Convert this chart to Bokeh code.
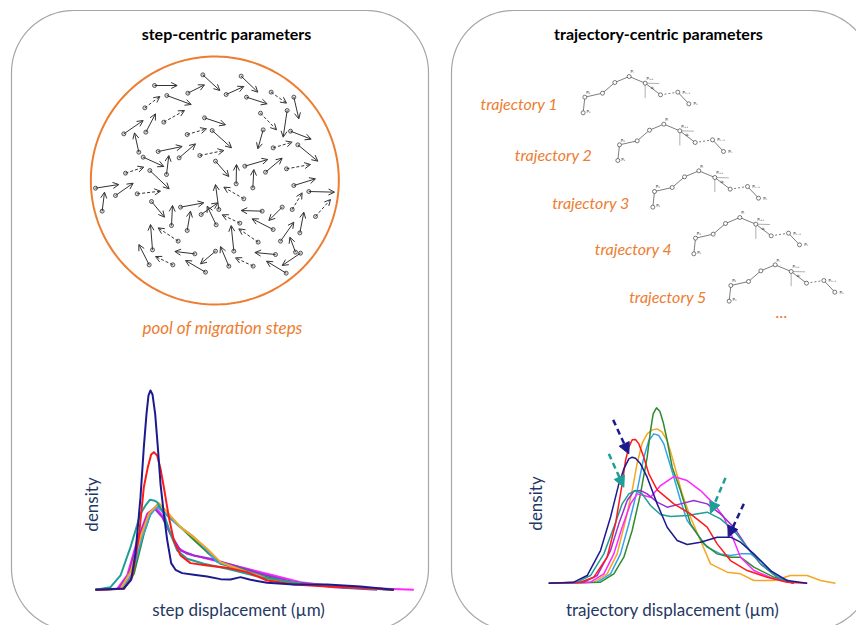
import numpy as np
from bokeh.plotting import figure
from bokeh.models import Range1d, ColumnDataSource, Arrow, OpenHead, NormalHead
from bokeh.core.properties import value
from bokeh.embed import file_html
from bokeh.resources import INLINE

# ---------------- data ----------------
TITLES = ["step-centric parameters", "trajectory-centric parameters"]
POOL_LABEL = "pool of migration steps"
TRAJ_LABELS = ["trajectory 1", "trajectory 2", "trajectory 3", "trajectory 4", "trajectory 5"]
X_LABELS = ["step displacement (\u00b5m)", "trajectory displacement (\u00b5m)"]
Y_LABEL = "density"

# pool of migration steps (start -> end, dashed flag), pool units
pool_x0 = [222, 322, 367, 482, 437, 572, 640, 498, 259, 193, 196, 250, 130, 175, 372, 540, 620, 548, 630, 320,
           395, 578, 652, 233, 296, 358, 188, 258, 405, 467, 493, 555, 517, 618, 135, 208, 45, 105, 65, 170,
           640, 685, 490, 415, 213, 273, 300, 320, 362, 407, 545, 578, 478, 605, 635, 705, 658, 600, 460, 533,
           293, 216, 343, 585, 645, 660, 206, 277, 375, 405, 445, 518, 617]
pool_y0 = [135, 158, 103, 107, 162, 155, 170, 170, 165, 202, 275, 245, 280, 335, 232, 218, 210, 268, 272, 282,
           270, 322, 313, 333, 352, 345, 350, 402, 362, 430, 377, 395, 442, 385, 398, 390, 443, 465, 512, 460,
           435, 453, 475, 507, 483, 555, 500, 570, 522, 553, 512, 567, 548, 500, 507, 528, 577, 602, 632, 605,
           602, 628, 640, 642, 635, 638, 673, 673, 695, 632, 677, 677, 698]
pool_x1 = [290, 372, 418, 532, 490, 618, 655, 560, 332, 238, 225, 312, 188, 162, 435, 588, 608, 532, 692, 378,
           453, 635, 712, 305, 345, 430, 250, 265, 445, 468, 562, 605, 520, 690, 190, 266, 115, 158, 72, 240,
           705, 762, 430, 405, 252, 276, 370, 330, 412, 380, 482, 515, 425, 565, 665, 750, 670, 640, 452, 475,
           233, 210, 283, 523, 628, 605, 175, 225, 315, 360, 420, 465, 558]
pool_y1 = [135, 133, 150, 155, 138, 188, 235, 190, 192, 168, 220, 210, 240, 277, 253, 268, 290, 325, 296, 265,
           322, 305, 362, 318, 310, 330, 378, 345, 408, 372, 357, 353, 387, 372, 380, 445, 432, 428, 455, 452,
           415, 455, 440, 432, 530, 495, 487, 512, 487, 497, 510, 535, 523, 540, 457, 477, 515, 545, 555, 565,
           562, 552, 633, 636, 590, 675, 612, 648, 660, 670, 618, 652, 662]
pool_dashed = [0, 0, 0, 0, 0, 1, 0, 0, 0, 1, 0, 1, 0, 0, 0, 1, 0, 0, 0, 1,
               0, 1, 0, 0, 0, 1, 0, 0, 0, 0, 0, 0, 0, 1, 1, 0, 0, 0, 0, 1,
               0, 0, 1, 0, 0, 0, 0, 0, 0, 0, 0, 0, 1, 0, 1, 1, 0, 0, 0, 1,
               1, 0, 0, 0, 0, 0, 0, 1, 0, 0, 0, 1, 0]

# trajectory sketch (trajectory units)
traj_x = [338, 343, 396, 433, 476, 524, 570, 622, 655]
traj_y = [157, 110, 98, 66, 48, 68, 103, 95, 130]
traj_pt_labels = ["P\u2081", "P\u2082", "P\u1d62", "P\u1d62\u208a\u2081", "P\u2099\u208b\u2081", "P\u2099"]
traj_pt_label_idx = [0, 1, 4, 5, 7, 8]
traj_dx = [0, 104, 209, 332, 438]
traj_dy = [0, 143, 283, 423, 565]
traj_label_x = [30, 133, 245, 373, 476]
traj_label_y = [130, 282, 425, 565, 708]

# step-centric densities (displacement units, density units)
step_curves = {
    "magenta": ([105, 170, 200, 230, 260, 285, 305, 325, 350, 380, 420, 480, 560, 640, 720, 850, 1060],
                [0, 3, 43, 148, 228, 248, 223, 178, 128, 108, 98, 83, 63, 43, 23, 8, 0]),
    "purple": ([105, 175, 205, 235, 262, 283, 305, 330, 360, 400, 450, 520, 600, 700, 820, 950],
               [0, 3, 48, 158, 228, 243, 218, 168, 118, 103, 93, 73, 48, 23, 8, 0]),
    "green": ([105, 190, 220, 250, 270, 290, 315, 360, 400, 440, 480, 540, 600, 660, 740, 850, 1000],
              [0, 3, 48, 168, 228, 253, 228, 188, 150, 113, 78, 63, 43, 28, 16, 8, 0]),
    "lightblue": ([105, 185, 215, 245, 268, 290, 320, 360, 400, 440, 470, 520, 580, 640, 720, 850, 1000],
                  [0, 3, 48, 158, 223, 250, 223, 188, 158, 118, 83, 68, 48, 28, 18, 10, 0]),
    "orange": ([105, 180, 210, 240, 265, 295, 320, 360, 400, 440, 480, 520, 560, 620, 720, 850, 1000],
               [0, 3, 53, 158, 228, 260, 233, 188, 158, 123, 83, 68, 53, 33, 18, 10, 0]),
    "teal": ([105, 150, 180, 210, 240, 255, 268, 280, 290, 310, 330, 350, 380, 430, 500, 600, 720, 850, 1000],
             [0, 8, 43, 128, 228, 253, 270, 268, 263, 228, 168, 118, 93, 78, 63, 38, 18, 8, 0]),
    "red": ([105, 190, 215, 235, 250, 262, 272, 280, 290, 300, 310, 325, 340, 360, 390, 440, 500, 560, 620, 700,
             800, 900, 1000],
            [0, 3, 38, 158, 308, 368, 406, 413, 403, 363, 308, 218, 148, 103, 80, 73, 66, 53, 28, 16, 10, 6, 0]),
    "navy": ([105, 190, 212, 225, 240, 250, 258, 264, 270, 276, 284, 292, 300, 310, 320, 332, 345, 365, 400, 440,
              480, 510, 540, 570, 620, 700, 800, 900, 1000],
             [0, 4, 30, 110, 278, 428, 528, 583, 598, 586, 528, 428, 318, 228, 150, 80, 60, 50, 45, 40, 32, 31, 38,
              30, 21, 16, 16, 10, 0]),
}

# trajectory-centric densities
traj_curves = {
    "orange": ([145, 280, 320, 350, 375, 395, 410, 425, 440, 455, 470, 485, 500, 515, 530, 545, 570, 600, 630, 680,
                720, 760, 820, 870, 920, 960, 1005],
               [0, 3, 28, 88, 188, 278, 360, 420, 448, 460, 463, 453, 428, 378, 323, 268, 198, 128, 58, 33, 28, 8,
                8, 23, 23, 8, 0]),
    "lightblue": ([145, 290, 330, 360, 385, 410, 430, 445, 460, 475, 490, 505, 520, 540, 560, 590, 620, 660, 690,
                   720, 750, 780, 820, 880],
                  [0, 3, 28, 88, 178, 278, 378, 428, 448, 443, 418, 368, 318, 248, 188, 148, 108, 88, 83, 88, 88, 68,
                   28, 0]),
    "green": ([145, 300, 340, 370, 395, 420, 440, 450, 458, 468, 478, 488, 500, 515, 540, 570, 610, 650, 690, 720,
               760, 820, 880],
              [0, 3, 28, 78, 158, 268, 378, 458, 508, 526, 516, 483, 428, 348, 278, 178, 118, 88, 78, 78, 48, 18, 0]),
    "magenta": ([145, 270, 310, 340, 365, 390, 410, 430, 450, 480, 520, 560, 600, 640, 670, 700, 720, 760, 820, 880],
                [0, 3, 28, 88, 168, 238, 268, 263, 258, 293, 320, 308, 278, 238, 198, 128, 78, 38, 13, 0]),
    "purple": ([145, 250, 290, 330, 355, 380, 400, 420, 440, 470, 500, 540, 580, 620, 660, 700, 740, 780, 830, 880],
               [0, 3, 23, 98, 178, 248, 276, 278, 268, 243, 228, 238, 248, 238, 208, 168, 108, 58, 18, 0]),
    "teal": ([145, 230, 270, 310, 340, 365, 385, 405, 425, 450, 480, 510, 560, 620, 660, 700, 740, 780, 830, 880],
             [0, 3, 23, 88, 168, 238, 268, 278, 268, 233, 206, 200, 203, 213, 193, 158, 108, 58, 18, 0]),
    "red": ([145, 240, 280, 320, 345, 365, 375, 385, 395, 405, 415, 430, 445, 470, 520, 570, 620, 650, 690, 740,
             800, 860, 920],
            [0, 3, 18, 78, 178, 298, 368, 408, 430, 431, 418, 378, 328, 280, 238, 208, 168, 118, 68, 38, 18, 3, 0]),
    "navy": ([145, 220, 260, 300, 330, 355, 370, 385, 395, 405, 420, 440, 470, 500, 530, 560, 600, 650, 690, 720,
              760, 810, 860, 920],
             [0, 3, 23, 98, 198, 298, 343, 373, 378, 375, 358, 318, 238, 168, 128, 116, 123, 138, 138, 123, 88, 38,
              8, 0]),
}

# dashed highlight arrows on trajectory densities
hl_x0 = [338, 325, 675, 730]
hl_y0 = [490, 388, 316, 238]
hl_x1 = [385, 370, 630, 683]
hl_y1 = [388, 288, 210, 138]
hl_color = ["navy", "teal", "teal", "navy"]

COLORS = {"navy": "#1b1b8f", "red": "#ff1a1a", "teal": "#1f9e98", "orange": "#f5a623",
          "lightblue": "#35a2ea", "green": "#2e8b2e", "magenta": "#ff26ff", "purple": "#9a2fd2"}
ORANGE = "#ed7d31"
NAVY_TEXT = "#1f3864"

# ---------------- layout ----------------
W, H = 856, 625
PX0, PY0 = 0, 0

p = figure(width=W, height=H, output_backend="svg", toolbar_location=None,
           x_range=Range1d(PX0, PX0 + W), y_range=Range1d(PY0 + H, PY0),
           x_axis_location=None, y_axis_location=None, min_border=0)
p.grid.visible = False
p.outline_line_color = None
p.background_fill_color = "white"
p.border_fill_color = "white"


def lin_range(org_px, units_per_px, lo_px, hi_px):
    return Range1d((lo_px - org_px) * units_per_px, (hi_px - org_px) * units_per_px)


p.extra_x_ranges["pool"] = lin_range(80, 3, PX0, PX0 + W)
p.extra_y_ranges["pool"] = lin_range(40, 3, PY0 + H, PY0)
p.extra_x_ranges["traj"] = lin_range(470, 3, PX0, PX0 + W)
p.extra_y_ranges["traj"] = lin_range(60, 3, PY0 + H, PY0)
p.extra_x_ranges["sd"] = lin_range(60, 3, PX0, PX0 + W)
p.extra_y_ranges["sd"] = lin_range(589.3, -3, PY0 + H, PY0)
p.extra_x_ranges["td"] = lin_range(500, 3, PX0, PX0 + W)
p.extra_y_ranges["td"] = lin_range(582.7, -3, PY0 + H, PY0)


def rounded_rect(l, r, t, b, rad, n=30):
    xs, ys = [], []
    for cx, cy, a0 in [(l + rad, t + rad, np.pi), (r - rad, t + rad, 1.5 * np.pi),
                       (r - rad, b - rad, 0.0), (l + rad, b - rad, 0.5 * np.pi)]:
        a = np.linspace(a0, a0 + 0.5 * np.pi, n)
        xs.extend(cx + rad * np.cos(a))
        ys.extend(cy + rad * np.sin(a))
    xs.append(xs[0]); ys.append(ys[0])
    return xs, ys


for l, r in [(11, 428), (451, 872)]:
    xs, ys = rounded_rect(l, r, 10, 630, 62)
    p.line(xs, ys, line_color="#a6a6a6", line_width=1.2)

# titles
p.text(x=[226, 658], y=[33, 33], text=TITLES, text_font=value("Lato"), text_font_style="bold",
       text_font_size="16px", text_color="black", text_align="center", text_baseline="middle")

# pool circle
ang = np.linspace(0, 2 * np.pi, 240)
p.line(403 + 372 * np.cos(ang), 420 + 372 * np.sin(ang), line_color=ORANGE, line_width=2,
       x_range_name="pool", y_range_name="pool")

for dflag, dash in [(0, "solid"), (1, "3 2")]:
    idx = [i for i, d in enumerate(pool_dashed) if d == dflag]
    src = ColumnDataSource(dict(x0=[pool_x0[i] for i in idx], y0=[pool_y0[i] for i in idx],
                                x1=[pool_x1[i] for i in idx], y1=[pool_y1[i] for i in idx]))
    p.add_layout(Arrow(end=OpenHead(size=6, line_color="#333333", line_width=1),
                       x_start="x0", y_start="y0", x_end="x1", y_end="y1", source=src,
                       line_color="#333333", line_width=1, line_dash=dash,
                       x_range_name="pool", y_range_name="pool"))
p.scatter(pool_x0, pool_y0, size=4, marker="circle", line_color="#333333", fill_color="#dcdcdc",
          line_width=0.8, x_range_name="pool", y_range_name="pool")

p.text(x=[222], y=[327], text=[POOL_LABEL], text_font=value("Lato"), text_font_style="italic",
       text_font_size="17px", text_color=ORANGE, text_align="center", text_baseline="middle")

# trajectories
for k in range(5):
    dx, dy = traj_dx[k], traj_dy[k]
    xs = [v + dx for v in traj_x]
    ys = [v + dy for v in traj_y]
    kw = dict(line_color="#6e6e6e", line_width=0.9, x_range_name="traj", y_range_name="traj")
    p.line(xs[:7], ys[:7], **kw)
    p.line(xs[6:8], ys[6:8], line_dash="2 2", **kw)
    p.line(xs[7:], ys[7:], **kw)
    p.segment(x0=[xs[5], xs[5]], y0=[ys[5] - 6, ys[5]], x1=[xs[5], xs[5] + 42], y1=[ys[5] + 44, ys[5] + 1],
              line_color="#9a9a9a", line_width=0.8, x_range_name="traj", y_range_name="traj")
    p.scatter(xs, ys, size=4, marker="circle", line_color="#444444", fill_color="white",
              line_width=0.7, x_range_name="traj", y_range_name="traj")
    lx = [xs[i] + (14 if i in (7, 8) else 4) for i in traj_pt_label_idx]
    ly = [ys[i] + (-14 if i in (1, 4, 5) else (-4 if i == 0 else 0)) for i in traj_pt_label_idx]
    lx[0] = xs[0] + 10
    p.text(x=lx, y=ly, text=traj_pt_labels, text_font=value("DejaVu Sans"), text_font_size="4px",
           text_color="#333333", text_align="left", text_baseline="middle",
           x_range_name="traj", y_range_name="traj")
    p.text(x=[xs[5] + 22], y=[ys[5] + 12], text=["\u03b1\u1d62"], text_font=value("DejaVu Sans"),
           text_font_size="4px", text_color="#333333", text_align="center", text_baseline="middle",
           x_range_name="traj", y_range_name="traj")

p.text(x=traj_label_x, y=traj_label_y, text=TRAJ_LABELS, text_font=value("Lato"), text_font_style="italic",
       text_font_size="16px", text_color=ORANGE, text_align="left", text_baseline="middle",
       x_range_name="traj", y_range_name="traj")
p.text(x=[932], y=[752], text=["..."], text_font=value("Lato"), text_font_size="17px",
       text_color=ORANGE, text_align="center", text_baseline="middle",
       x_range_name="traj", y_range_name="traj")

# density curves
for name, (xs, ys) in step_curves.items():
    p.line(xs, ys, line_color=COLORS[name], line_width=2, line_join="round",
           x_range_name="sd", y_range_name="sd")
for name, (xs, ys) in traj_curves.items():
    p.line(xs, ys, line_color=COLORS[name], line_width=1.5, line_join="round",
           x_range_name="td", y_range_name="td")

for i in range(len(hl_x0)):
    c = COLORS[hl_color[i]]
    p.add_layout(Arrow(end=NormalHead(size=11, fill_color=c, line_color=c),
                       x_start=hl_x0[i], y_start=hl_y0[i], x_end=hl_x1[i], y_end=hl_y1[i],
                       line_color=c, line_width=2.5, line_dash="6 4",
                       x_range_name="td", y_range_name="td"))

# axis labels
p.text(x=[91, 535], y=[504, 503], text=[Y_LABEL, Y_LABEL], angle=np.pi / 2, text_font=value("Lato"),
       text_font_size="17px", text_color=NAVY_TEXT, text_align="center", text_baseline="middle")
p.text(x=[238, 672], y=[609, 609], text=X_LABELS, text_font=value("Lato"),
       text_font_size="17px", text_color=NAVY_TEXT, text_align="center", text_baseline="middle")

open("out.html", "w").write(file_html(p, INLINE))
